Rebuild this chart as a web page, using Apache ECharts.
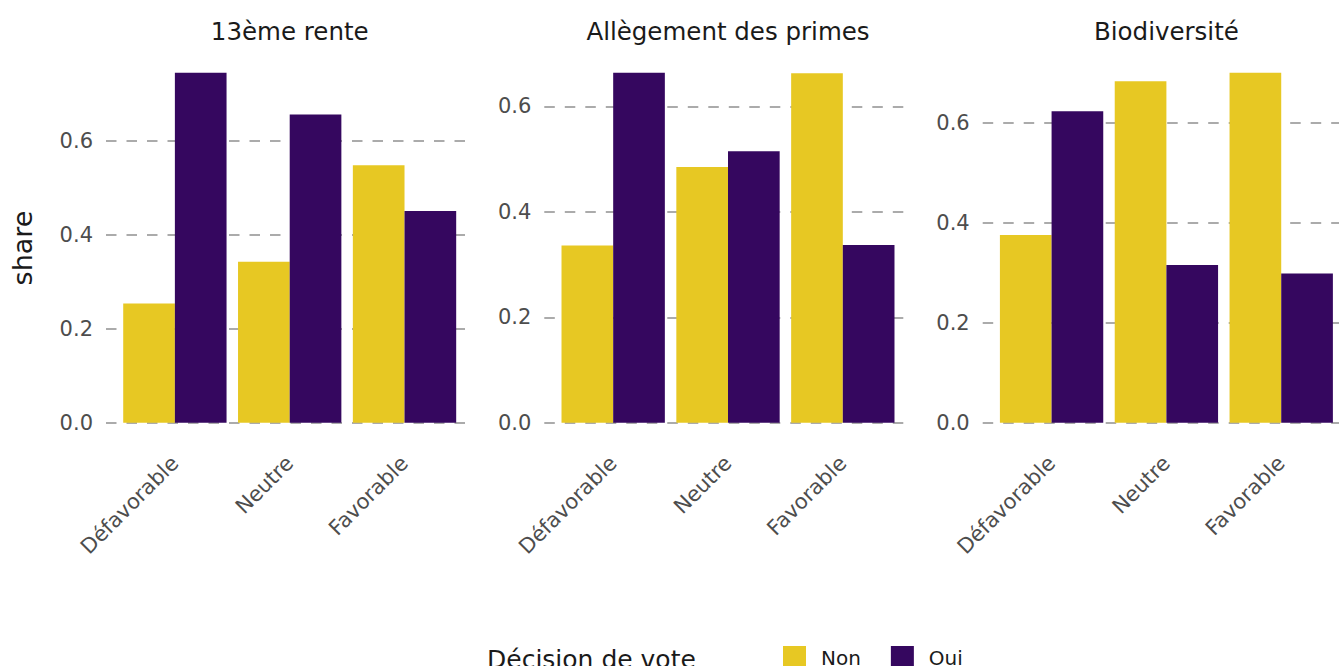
<!DOCTYPE html>
<html>
<head>
<meta charset="utf-8">
<script src="https://cdn.jsdelivr.net/npm/echarts@6/dist/echarts.min.js"></script>
<style>
html,body{margin:0;padding:0;background:#fff;}
#chart{width:1339px;height:666px;}
</style>
</head>
<body>
<div id="chart"></div>
<script>
// ---- data ----
const categories = ['Défavorable', 'Neutre', 'Favorable'];
const facetTitles = ['13ème rente', 'Allègement des primes', 'Biodiversité'];
const seriesNames = ['Non', 'Oui'];
const nonRente = [0.254, 0.343, 0.549];
const ouiRente = [0.746, 0.657, 0.451];
const nonPrimes = [0.336, 0.485, 0.663];
const ouiPrimes = [0.664, 0.515, 0.337];
const nonBio = [0.376, 0.684, 0.701];
const ouiBio = [0.624, 0.316, 0.299];
const yTickStep = 0.2;
const legendTitle = 'Décision de vote';
const yAxisTitle = 'share';

const facetData = [
  [nonRente, ouiRente],
  [nonPrimes, ouiPrimes],
  [nonBio, ouiBio]
];

// ---- layout / style ----
const FONT = 'DejaVu Sans';
const colors = ['#E7C823', '#35075F'];
const panelLeft = [106, 544.3, 982.7];
const panelWidth = 367.4;
const bandPad = 11.47;
const gridTop = 55.2;
const gridBottom = 243.3;
const tickColor = '#4D4D4D';
const gridColor = '#ABABAB';

const grids = [], xAxes = [], yAxes = [], series = [], graphics = [];

facetData.forEach((pair, i) => {
  const maxVal = Math.max(...pair[0], ...pair[1]) * 1.05;
  // grid used for gridlines and y labels (full panel width)
  grids.push({left: panelLeft[i], width: panelWidth, top: gridTop, bottom: gridBottom});
  xAxes.push({gridIndex: 2 * i, type: 'value', min: 0, max: 1, show: false});
  yAxes.push({
    gridIndex: 2 * i, type: 'value', min: 0, max: maxVal, interval: yTickStep,
    axisLine: {show: false}, axisTick: {show: false},
    axisLabel: {
      margin: 13, fontSize: 21, color: tickColor, fontFamily: FONT,
      showMaxLabel: false, formatter: v => v.toFixed(1)
    },
    splitLine: {show: true, showMaxLine: false,
      lineStyle: {color: gridColor, width: 2, type: [10.5, 10]}}
  });
  // grid used for bars (category bands)
  grids.push({left: panelLeft[i] + bandPad, width: panelWidth - 2 * bandPad, top: gridTop, bottom: gridBottom});
  xAxes.push({
    gridIndex: 2 * i + 1, type: 'category', data: categories,
    axisLine: {show: false}, axisTick: {show: false},
    axisLabel: {rotate: 45, margin: 37, fontSize: 21, color: tickColor, fontFamily: FONT, interval: 0}
  });
  yAxes.push({gridIndex: 2 * i + 1, type: 'value', min: 0, max: maxVal, show: false, splitLine: {show: false}});
  pair.forEach((vals, s) => {
    series.push({
      type: 'bar', name: seriesNames[s], xAxisIndex: 2 * i + 1, yAxisIndex: 2 * i + 1,
      data: vals, barGap: '0%', barCategoryGap: '10%',
      itemStyle: {color: colors[s]}, emphasis: {disabled: true}
    });
  });
  graphics.push({
    type: 'text', x: panelLeft[i] + panelWidth / 2, y: 31.5,
    style: {text: facetTitles[i], font: '24.5px "' + FONT + '"', fill: '#1A1A1A', align: 'center', verticalAlign: 'middle'}
  });
});

graphics.push({
  type: 'text', x: 22, y: 248, rotation: Math.PI / 2,
  style: {text: yAxisTitle, font: '27px "' + FONT + '"', fill: '#1A1A1A', align: 'center', verticalAlign: 'middle'}
});
graphics.push({
  type: 'text', x: 487, y: 659,
  style: {text: legendTitle, font: '25px "' + FONT + '"', fill: '#1A1A1A', align: 'left', verticalAlign: 'middle'}
});

const chart = echarts.init(document.getElementById('chart'), null, {renderer: 'svg'});
chart.setOption({
  animation: false,
  backgroundColor: '#fff',
  color: colors,
  grid: grids,
  xAxis: xAxes,
  yAxis: yAxes,
  series: series,
  legend: {
    data: seriesNames, left: 783, top: 646, icon: 'rect', padding: 0,
    itemWidth: 23, itemHeight: 23, itemGap: 30,
    textStyle: {fontSize: 20, color: '#1A1A1A', fontFamily: FONT, padding: [0, 0, 0, 10]}
  },
  graphic: graphics
});
</script>
</body>
</html>
